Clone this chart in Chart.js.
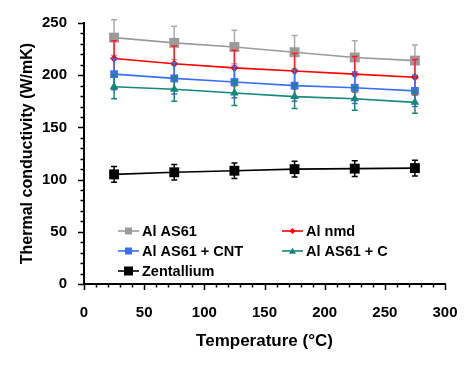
<!DOCTYPE html>
<html>
<head>
<meta charset="utf-8">
<script src="https://cdn.jsdelivr.net/npm/chart.js@4.4.1/dist/chart.umd.min.js"></script>
<style>
  html, body { margin: 0; padding: 0; background: #fff; }
</style>
</head>
<body>
<canvas id="c" width="474" height="366"></canvas>
<script>
// values
const temps = [25, 75, 125, 175, 225, 275];
const seriesNames = ['Al AS61', 'Al nmd', 'Al AS61 + CNT', 'Al AS61 + C', 'Zentallium'];
const alAS61 = [236, 231, 227, 222, 217, 214];
const alAS61Err = [17, 16, 16, 16, 16, 15];
const alNmd = [216, 211, 207, 204, 201, 198];
const alNmdErr = [17, 17, 17, 17, 17, 17];
const alCnt = [201, 197, 193.5, 190, 188, 185];
const alCntErr = [15, 15, 15, 15, 15, 15];
const alC = [189, 186.5, 183, 179.5, 177.5, 174];
const alCErr = [11.5, 11.5, 12, 11.5, 11, 10.5];
const zent = [105, 107, 108.5, 110, 110.5, 111];
const zentErr = [7.5, 7.5, 7.5, 7.5, 7.5, 7.5];
const xTicks = [0, 50, 100, 150, 200, 250, 300];
const yTicks = [0, 50, 100, 150, 200, 250];

const FONT = 'Liberation Sans, Arial, sans-serif';

function pts(arr) {
  return temps.map((t, i) => ({ x: t, y: arr[i] }));
}

function makeSet(i, vals, errs, color, errColor, style, radius, legendSize, order) {
  return {
    label: seriesNames[i],
    data: pts(vals),
    errors: errs,
    errColor: errColor,
    legendStyle: style,
    legendSize: legendSize,
    borderColor: color,
    backgroundColor: color,
    borderWidth: 1.6,
    pointStyle: style,
    pointRadius: radius,
    pointHoverRadius: radius,
    pointBorderWidth: 0,
    order: order
  };
}

const datasets = [
  makeSet(0, alAS61, alAS61Err, '#9a9a9a', '#ababab', 'rect', 7, 7, 5),
  makeSet(1, alNmd, alNmdErr, '#ff0000', '#ff2020', 'rectRot', 4, 6, 4),
  makeSet(2, alCnt, alCntErr, '#3b6ef0', '#3b6ef0', 'rect', 5.5, 7, 3),
  makeSet(3, alC, alCErr, '#15877c', '#15877c', 'triangle', 5, 7, 2),
  makeSet(4, zent, zentErr, '#000000', '#000000', 'rect', 7, 9, 1)
];

// error bars drawn just before each series
const errorBars = {
  id: 'errorBars',
  beforeDatasetDraw(chart, args) {
    const ds = chart.data.datasets[args.index];
    if (!ds.errors) return;
    const ctx = chart.ctx, ys = chart.scales.y;
    ctx.save();
    ctx.strokeStyle = ds.errColor;
    ctx.lineWidth = 1.5;
    args.meta.data.forEach((pt, i) => {
      const v = ds.data[i].y, e = ds.errors[i];
      const top = ys.getPixelForValue(v + e), bot = ys.getPixelForValue(v - e);
      ctx.beginPath();
      ctx.moveTo(pt.x, top); ctx.lineTo(pt.x, bot);
      ctx.moveTo(pt.x - 3, top); ctx.lineTo(pt.x + 3, top);
      ctx.moveTo(pt.x - 3, bot); ctx.lineTo(pt.x + 3, bot);
      ctx.stroke();
    });
    ctx.restore();
  }
};

// major and minor tick marks, outside the axes
const axisTicks = {
  id: 'axisTicks',
  afterDraw(chart) {
    const ctx = chart.ctx, xs = chart.scales.x, ys = chart.scales.y;
    ctx.save();
    ctx.strokeStyle = '#000';
    ctx.lineWidth = 1.5;
    ctx.beginPath();
    for (let v = 0; v <= 300; v += 10) {
      const px = Math.round(xs.getPixelForValue(v)) + 0.5;
      const len = v % 50 === 0 ? 6 : 3.5;
      ctx.moveTo(px, xs.top); ctx.lineTo(px, xs.top + len);
    }
    for (let v = 0; v <= 250; v += 10) {
      const py = Math.round(ys.getPixelForValue(v)) + 0.5;
      const len = v % 50 === 0 ? 6 : 3.5;
      ctx.moveTo(ys.right - len, py); ctx.lineTo(ys.right, py);
    }
    ctx.stroke();
    ctx.restore();
  }
};

function drawMarker(ctx, style, x, y, size, color) {
  const h = size / 2;
  ctx.fillStyle = color;
  ctx.beginPath();
  if (style === 'rect') {
    ctx.rect(x - h, y - h, size, size);
  } else if (style === 'rectRot') {
    ctx.moveTo(x, y - h); ctx.lineTo(x + h, y); ctx.lineTo(x, y + h); ctx.lineTo(x - h, y);
  } else {
    ctx.moveTo(x, y - h); ctx.lineTo(x + h, y + h * 0.8); ctx.lineTo(x - h, y + h * 0.8);
  }
  ctx.closePath();
  ctx.fill();
}

// legend inside the plot, two columns
const legendCols = [118, 282];
const legendRows = [231, 251, 271];
const inLegend = {
  id: 'inLegend',
  afterDraw(chart) {
    const ctx = chart.ctx;
    ctx.save();
    ctx.font = 'bold 14.5px ' + FONT;
    ctx.textBaseline = 'middle';
    ctx.textAlign = 'left';
    chart.data.datasets.forEach((ds, i) => {
      const x = legendCols[i % 2], y = legendRows[Math.floor(i / 2)];
      ctx.strokeStyle = ds.borderColor;
      ctx.lineWidth = 1.6;
      ctx.beginPath(); ctx.moveTo(x, y); ctx.lineTo(x + 21, y); ctx.stroke();
      drawMarker(ctx, ds.legendStyle, x + 10.5, y, ds.legendSize, ds.borderColor);
      ctx.fillStyle = '#000';
      ctx.fillText(ds.label, x + 24, y + 1);
    });
    ctx.restore();
  }
};

new Chart(document.getElementById('c'), {
  type: 'line',
  data: { datasets: datasets },
  plugins: [errorBars, axisTicks, inLegend],
  options: {
    responsive: false,
    animation: false,
    devicePixelRatio: 1,
    layout: { padding: { left: 0, top: 23, right: 29, bottom: 0 } },
    plugins: { legend: { display: false }, tooltip: { enabled: false } },
    scales: {
      x: {
        type: 'linear', min: 0, max: 300,
        afterFit(s) { s.height = 82; },
        afterBuildTicks(s) { s.ticks = xTicks.map(v => ({ value: v })); },
        grid: { display: false },
        border: { display: true, color: '#000', width: 2 },
        ticks: { padding: 12, color: '#000', font: { family: FONT, weight: 'bold', size: 15 } },
        title: { display: true, text: 'Temperature (°C)', color: '#000',
          font: { family: FONT, weight: 'bold', size: 17 }, padding: { top: 0, bottom: 14 } }
      },
      y: {
        min: 0, max: 250,
        afterFit(s) { s.width = 84; },
        afterBuildTicks(s) { s.ticks = yTicks.map(v => ({ value: v })); },
        grid: { display: false },
        border: { display: true, color: '#000', width: 2 },
        ticks: { padding: 9, color: '#000', font: { family: FONT, weight: 'bold', size: 15 } },
        title: { display: true, text: 'Thermal conductivity (W/mK)', color: '#000',
          font: { family: FONT, weight: 'bold', size: 16 }, padding: { top: 18, bottom: 0 } }
      }
    }
  }
});
</script>
</body>
</html>
